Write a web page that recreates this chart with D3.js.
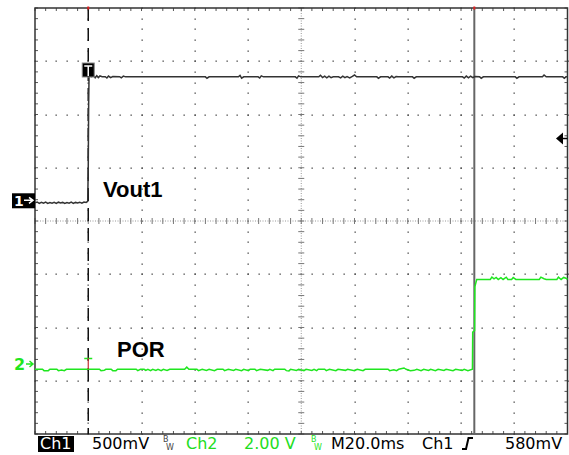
<!DOCTYPE html>
<html>
<head>
<meta charset="utf-8">
<script src="https://cdn.jsdelivr.net/npm/d3@7"></script>
<style>
  body { margin: 0; background: #fff; }
  svg { display: block; }
  text { font-family: "DejaVu Sans", sans-serif; }
</style>
</head>
<body>
<script>
'use strict';

// ---- data (time in ms, values in volts) ----
const ch1Trace = [
  [-20,-0.024],[-19.2,-0.016],[-18.4,-0.03],[-17.6,-0.02],[-16.8,-0.028],[-16,-0.018],[-15.2,-0.03],[-14.4,-0.022],
  [-13.6,-0.028],[-12.8,-0.02],[-12,-0.03],[-11.2,-0.018],[-10.4,-0.026],[-9.6,-0.02],[-8.8,-0.03],[-8,-0.022],
  [-7.2,-0.028],[-6.4,-0.018],[-5.6,-0.03],[-4.8,-0.02],[-4,-0.026],[-3.2,-0.018],[-2.4,-0.028],[-1.6,-0.016],
  [-0.8,-0.02],[-0.2,-0.01],
  [0,0.3],[0.15,0.9],[0.3,1.17],[1.2,1.16],[2.0,1.168],[2.6,1.15],[3.2,1.17],[3.8,1.152],[4.4,1.168],[5.2,1.16],
  [6.4,1.16],[7.0,1.148],[7.6,1.166],[8.4,1.152],[9.2,1.162],[11.8,1.16],[12.4,1.15],[13.2,1.166],[14,1.159],
  [44,1.159],[44.6,1.146],[45.4,1.159],[56.4,1.159],[57,1.172],[57.6,1.146],[58.4,1.159],[63.8,1.159],[64.4,1.148],
  [65,1.168],[65.8,1.159],[77.8,1.159],[78.4,1.146],[79,1.168],[79.8,1.159],[86.6,1.159],[87.2,1.174],[88,1.152],
  [88.8,1.166],[89.6,1.15],[90.4,1.165],[91.2,1.152],[92,1.16],[94,1.16],[94.8,1.15],[95.6,1.166],[96.4,1.152],
  [97.2,1.162],[98.2,1.15],[99.2,1.164],[100,1.176],[100.8,1.159],
  [108.4,1.159],[109,1.146],[109.8,1.159],[112.6,1.159],[113.2,1.148],[114,1.166],[114.8,1.15],[115.6,1.162],
  [116.4,1.159],[121.8,1.159],[122.4,1.146],[123.2,1.159],
  [140.6,1.159],[141.2,1.148],[142,1.166],[142.8,1.15],[143.6,1.166],[144.4,1.152],[145.2,1.162],[147,1.159],
  [147.6,1.146],[148.4,1.159],[160.4,1.159],[161,1.146],[161.8,1.159],[170.6,1.159],[171.2,1.176],[172,1.159],
  [178.2,1.159],[178.8,1.146],[179.4,1.159],[180,1.159]
];

const ch2Trace = [
  [-20,-0.199],[-17.2,-0.199],[-16.6,-0.25],[-15,-0.25],[-14.4,-0.199],[-11.8,-0.199],[-11.2,-0.25],[-10,-0.23],
  [-9,-0.25],[-8.2,-0.199],[0,-0.199],
  [4.2,-0.199],[4.8,-0.25],[6,-0.24],[6.6,-0.199],[8.6,-0.199],[9.2,-0.25],[10.4,-0.25],[11,-0.199],
  [18,-0.199],[18.6,-0.25],[19.6,-0.199],[21,-0.199],[21.6,-0.24],[22.4,-0.199],[23.4,-0.25],[24.2,-0.199],
  [25.4,-0.24],[26.2,-0.199],[27.4,-0.25],[28.2,-0.199],[29.6,-0.24],[30.6,-0.199],
  [36.2,-0.199],[37,-0.12],[37.8,-0.199],
  [40.8,-0.199],[41.4,-0.25],[42.8,-0.199],[44.4,-0.24],[45.4,-0.199],[47.4,-0.25],[48.4,-0.199],
  [50.6,-0.199],[51.2,-0.25],[52.6,-0.199],[54.6,-0.24],[55.4,-0.199],[57.6,-0.25],[58.4,-0.199],[60.2,-0.25],
  [60.8,-0.199],[62.6,-0.199],[63.2,-0.25],[64.6,-0.199],[67.4,-0.24],[68.2,-0.199],[69.4,-0.25],[70,-0.199],
  [73.8,-0.199],[74.4,-0.25],[75.4,-0.26],[76,-0.199],[78.2,-0.24],[79,-0.199],[81,-0.25],[81.8,-0.199],
  [84,-0.24],[84.8,-0.199],[85.8,-0.25],[86.4,-0.199],
  [88.8,-0.199],[89.4,-0.25],[90.6,-0.199],[93,-0.25],[93.8,-0.199],[96.6,-0.24],[97.4,-0.199],[100,-0.25],
  [101,-0.199],[103.2,-0.25],[104,-0.199],
  [112.6,-0.199],[113.2,-0.25],[114.8,-0.22],[115.8,-0.25],[116.6,-0.199],[118.6,-0.15],[119.4,-0.199],[121,-0.25],
  [122.4,-0.24],[123.4,-0.199],[125,-0.25],[126,-0.199],[127.8,-0.24],[128.6,-0.199],[130.4,-0.25],[131.4,-0.199],
  [133.6,-0.24],[134.4,-0.199],[137,-0.25],[138,-0.199],[140.4,-0.24],[141.2,-0.199],[142.6,-0.25],[144.3,-0.2],
  [144.4,1.2],[145.1,1.25],[145.2,2.9],[145.9,3.174],
  [151,3.174],[151.6,3.26],[152.4,3.2],[153.2,3.25],[154,3.174],[155,3.24],[155.8,3.174],[157,3.26],[157.6,3.174],
  [159,3.174],[159.6,3.25],[160.6,3.174],[169.4,3.174],[170,3.26],[171.2,3.2],[172,3.174],[176,3.174],
  [176.6,3.26],[177.6,3.174],[178.6,3.25],[179.4,3.22],[180,3.174]
];

// scope settings
const timeRange = [-20, 180];        // M20.0ms, 10 div
const voltsPerDiv = [0.5, 2.0];      // Ch1 500mV, Ch2 2.00 V
const groundDiv = [0.389, -2.685];   // channel position markers, in divisions
const triggerLevel = 0.58;           // Ch1 580mV
const cursorTime = 145;

const statusLabels = [
  {text: 'Ch1', x: 40, inverse: true, color: '#000'},
  {text: '500mV', x: 92, color: '#000'},
  {text: 'Ch2', x: 186, color: '#22dd22'},
  {text: '2.00 V', x: 244, color: '#22dd22'},
  {text: 'M20.0ms', x: 331, color: '#000'},
  {text: 'Ch1', x: 422, color: '#000'},
  {text: '580mV', x: 505, color: '#000'}
];

// ---- layout ----
const W = 569, H = 455;
const gLeft = 35, gRight = 567.5, gTop = 8, gBottom = 434;
const green = '#1fe61f';

const svg = d3.select('body').append('svg').attr('width', W).attr('height', H);
svg.append('rect').attr('width', W).attr('height', H).attr('fill', '#fff');

const x = d3.scaleLinear().domain(timeRange).range([gLeft, gRight]);
const yDiv = d3.scaleLinear().domain([-4, 4]).range([gBottom, gTop]);
const chY = function(ch) {
  return function(v){ return yDiv(v / voltsPerDiv[ch] + groundDiv[ch]); };
};
const y1 = chY(0), y2 = chY(1);

const divX = d3.scaleLinear().domain([0, 10]).range([gLeft, gRight]);
const grid = svg.append('g');
const minorX = d3.range(0, 10.001, 0.2);
const minorY = d3.range(-4, 4.001, 0.2);
const majorX = d3.range(1, 10).filter(function(d){ return d !== 5; });
const majorY = d3.range(-3, 4).filter(function(d){ return d !== 0; });

// dotted major lines
majorX.forEach(function(dx){
  grid.selectAll(null).data(minorY).enter().append('rect')
    .attr('x', Math.round(divX(dx)) - 0.5).attr('y', function(d){ return Math.round(yDiv(d)) - 0.5; })
    .attr('width', 1.3).attr('height', 1.3).attr('fill', '#444');
});
majorY.forEach(function(dy){
  grid.selectAll(null).data(minorX).enter().append('rect')
    .attr('x', function(d){ return Math.round(divX(d)) - 0.5; }).attr('y', Math.round(yDiv(dy)) - 0.5)
    .attr('width', 1.3).attr('height', 1.3).attr('fill', '#444');
});

// centre crosshair
grid.append('line').attr('x1', gLeft).attr('x2', gRight).attr('y1', yDiv(0)).attr('y2', yDiv(0))
  .attr('stroke', '#999').attr('stroke-dasharray', '1,1.5');
grid.append('line').attr('x1', divX(5)).attr('x2', divX(5)).attr('y1', gTop).attr('y2', gBottom)
  .attr('stroke', '#999').attr('stroke-dasharray', '1,1.5');
grid.selectAll(null).data(minorX).enter().append('line')
  .attr('x1', function(d){ return divX(d); }).attr('x2', function(d){ return divX(d); })
  .attr('y1', yDiv(0) - 3).attr('y2', yDiv(0) + 3).attr('stroke', '#777');
grid.selectAll(null).data(minorY).enter().append('line')
  .attr('y1', function(d){ return yDiv(d); }).attr('y2', function(d){ return yDiv(d); })
  .attr('x1', divX(5) - 3).attr('x2', divX(5) + 3).attr('stroke', '#777');

// border ticks
grid.selectAll(null).data(minorX).enter().append('line')
  .attr('x1', function(d){ return divX(d); }).attr('x2', function(d){ return divX(d); })
  .attr('y1', gTop).attr('y2', gTop + 3).attr('stroke', '#555');
grid.selectAll(null).data(minorX).enter().append('line')
  .attr('x1', function(d){ return divX(d); }).attr('x2', function(d){ return divX(d); })
  .attr('y1', gBottom).attr('y2', gBottom - 3).attr('stroke', '#555');
grid.selectAll(null).data(minorY).enter().append('line')
  .attr('y1', function(d){ return yDiv(d); }).attr('y2', function(d){ return yDiv(d); })
  .attr('x1', gLeft).attr('x2', gLeft + 3).attr('stroke', '#555');
grid.selectAll(null).data(minorY).enter().append('line')
  .attr('y1', function(d){ return yDiv(d); }).attr('y2', function(d){ return yDiv(d); })
  .attr('x1', gRight).attr('x2', gRight - 3).attr('stroke', '#555');

// border
grid.append('rect').attr('x', gLeft).attr('y', gTop).attr('width', gRight - gLeft).attr('height', gBottom - gTop)
  .attr('fill', 'none').attr('stroke', '#333').attr('stroke-width', 1.5);

// cursor and trigger position
svg.append('line').attr('x1', x(cursorTime)).attr('x2', x(cursorTime)).attr('y1', gTop).attr('y2', gBottom)
  .attr('stroke', '#666').attr('stroke-width', 2);
svg.append('line').attr('x1', x(0)).attr('x2', x(0)).attr('y1', gTop).attr('y2', gBottom)
  .attr('stroke', '#111').attr('stroke-width', 1.5).attr('stroke-dasharray', '13,7');
[0, cursorTime].forEach(function(t){
  svg.append('rect').attr('x', x(t) - 1).attr('y', gTop - 1.5).attr('width', 2).attr('height', 3).attr('fill', '#e02020');
});

// traces
const line1 = d3.line().x(function(d){ return x(d[0]); }).y(function(d){ return y1(d[1]); });
const line2 = d3.line().x(function(d){ return x(d[0]); }).y(function(d){ return y2(d[1]); });
svg.append('path').attr('d', line2(ch2Trace)).attr('fill', 'none').attr('stroke', green).attr('stroke-width', 1.5);
svg.append('path').attr('d', line1(ch1Trace)).attr('fill', 'none').attr('stroke', '#333').attr('stroke-width', 1.5);

// trigger markers
const tx = x(0);
svg.append('rect').attr('x', tx - 6).attr('y', 63).attr('width', 12).attr('height', 14)
  .attr('fill', '#000').attr('stroke', '#888').attr('stroke-width', 1);
svg.append('path').attr('d', 'M' + (tx - 4) + ',66 H' + (tx + 4) + ' M' + tx + ',66 V76')
  .attr('stroke', '#fff').attr('stroke-width', 1.5).attr('fill', 'none');
svg.append('path').attr('d', 'M' + (tx - 4) + ',358.5 H' + (tx + 4))
  .attr('stroke', green).attr('stroke-width', 1.5);
svg.append('line').attr('x1', tx).attr('x2', tx).attr('y1', 358).attr('y2', y2(-0.199))
  .attr('stroke', '#c03030').attr('stroke-width', 1.2);

// trigger level arrow on the right
const ty = y1(triggerLevel);
svg.append('path').attr('d', 'M556,' + ty + ' L563,' + (ty - 6) + ' L563,' + (ty + 6) + ' Z').attr('fill', '#000');
svg.append('line').attr('x1', 562).attr('x2', gRight).attr('y1', ty).attr('y2', ty).attr('stroke', '#000').attr('stroke-width', 1.5);

// channel ground markers
const g1 = y1(0), g2 = y2(0);
svg.append('rect').attr('x', 12).attr('y', g1 - 7).attr('width', 23).attr('height', 15).attr('fill', '#000');
svg.append('text').attr('x', 14).attr('y', g1 + 5.5).attr('fill', '#fff')
  .style('font-size', '14px').style('font-weight', 'bold').text('1');
svg.append('path').attr('d', 'M24,' + g1 + ' H33 M29,' + (g1 - 3) + ' L33,' + g1 + ' L29,' + (g1 + 3))
  .attr('stroke', '#fff').attr('stroke-width', 1.5).attr('fill', 'none');
svg.append('text').attr('x', 14).attr('y', g2 + 6).attr('fill', green)
  .style('font-size', '16px').style('font-weight', 'bold').text('2');
svg.append('path').attr('d', 'M26,' + g2 + ' H33 M29.5,' + (g2 - 3) + ' L33,' + g2 + ' L29.5,' + (g2 + 3))
  .attr('stroke', green).attr('stroke-width', 1.5).attr('fill', 'none');

// annotations
svg.append('text').attr('x', 103).attr('y', 197)
  .style('font-family', '"Liberation Sans", Arial, sans-serif').style('font-size', '22px').style('font-weight', 'bold')
  .text('Vout1');
svg.append('text').attr('x', 117).attr('y', 357)
  .style('font-family', '"Liberation Sans", Arial, sans-serif').style('font-size', '22px').style('font-weight', 'bold')
  .text('POR');

// status line
const baseY = 449;
statusLabels.forEach(function(s){
  if (s.inverse) {
    svg.append('rect').attr('x', s.x - 2).attr('y', 436).attr('width', 36).attr('height', 16).attr('fill', '#000');
  }
  svg.append('text').attr('x', s.x).attr('y', baseY)
    .attr('fill', s.inverse ? '#fff' : s.color).style('font-size', '16px').text(s.text);
});
[{x: 163, c: '#444'}, {x: 311, c: green}].forEach(function(b){
  svg.append('text').attr('x', b.x).attr('y', 442).attr('fill', b.c).style('font-size', '8px').text('B');
  svg.append('text').attr('x', b.x + 3).attr('y', 450).attr('fill', b.c).style('font-size', '8px').text('W');
});
svg.append('path').attr('d', 'M462,449 H466 L468.5,438 H473').attr('stroke', '#000').attr('stroke-width', 2).attr('fill', 'none');
</script>
</body>
</html>
